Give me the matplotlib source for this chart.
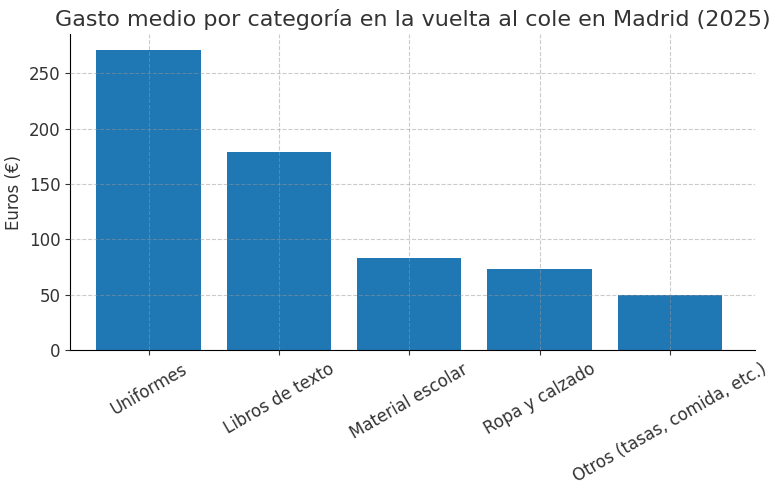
import matplotlib.pyplot as plt

# Datos
categorias = ["Uniformes", "Libros de texto", "Material escolar", "Ropa y calzado", "Otros (tasas, comida, etc.)"]
gasto = [271, 179, 83, 73, 50]

fig, ax = plt.subplots(figsize=(7.82, 4.9), dpi=100)
ax.bar(categorias, gasto, color="#1f77b4", zorder=2)
ax.grid(True, linestyle="--", color="#999999", alpha=0.5, linewidth=0.8, zorder=3)
ax.set_axisbelow(False)

ax.set_title("Gasto medio por categoría en la vuelta al cole en Madrid (2025)", fontsize=16, color="#333333")
ax.set_ylabel("Euros (€)", fontsize=12, color="#333333")
ax.tick_params(labelsize=12, colors="#333333")
plt.setp(ax.get_xticklabels(), rotation=30)
ax.set_ylim(0, 285)
ax.set_xlim(-0.6, 4.65)

ax.spines["top"].set_visible(False)
ax.spines["right"].set_visible(False)

fig.subplots_adjust(left=0.09, right=0.965, top=0.93, bottom=0.285)
plt.savefig("out.png", dpi=100)
